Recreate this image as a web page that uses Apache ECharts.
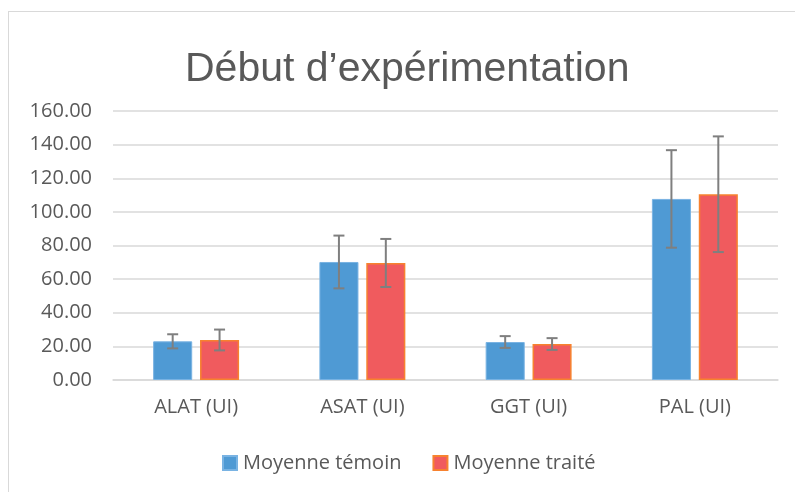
<!DOCTYPE html>
<html>
<head>
<meta charset="utf-8">
<script src="https://cdn.jsdelivr.net/npm/echarts@6/dist/echarts.min.js"></script>
<style>
  html, body { margin: 0; padding: 0; background: #fff; }
  #frame { position: absolute; left: 8px; top: 11px; width: 800px; height: 500px; border: 1.5px solid #d9d9d9; box-sizing: border-box; }
  #chart { position: absolute; left: 0; top: 0; width: 795px; height: 492px; }
</style>
</head>
<body>
<div id="frame"></div>
<div id="chart"></div>
<script>
// Liver enzyme means and standard deviations at the start of the experiment
const categories = ['ALAT (UI)', 'ASAT (UI)', 'GGT (UI)', 'PAL (UI)'];
const temoinMean = [23.0, 70.2, 22.6, 107.7];
const temoinSd = [4.2, 15.7, 3.5, 29.0];
const traiteMean = [23.8, 69.6, 21.4, 110.5];
const traiteSd = [6.2, 14.3, 3.5, 34.4];
const yTicks = [0, 20, 40, 60, 80, 100, 120, 140, 160];

const seriesNames = ['Moyenne témoin', 'Moyenne traité'];
const textColor = '#595959';
const font = '"Open Sans", "Liberation Sans", sans-serif';
const labelSize = 20;

const chart = echarts.init(document.getElementById('chart'), null, { renderer: 'canvas' });

// Error bar drawn as a vertical whisker with caps, offset to sit over its bar
function errorBars(means, sds, offsetIndex) {
  const data = means.map((m, i) => [i, m - sds[i], m + sds[i]]);
  return {
    type: 'custom',
    name: seriesNames[offsetIndex] + ' (erreur)',
    z: 10,
    silent: true,
    data: data,
    encode: { x: 0, y: [1, 2] },
    renderItem: function (params, api) {
      const idx = api.value(0);
      const lo = api.coord([idx, api.value(1)]);
      const hi = api.coord([idx, api.value(2)]);
      const band = api.size([1, 0])[0];
      const barW = band * 0.235;
      const gap = barW * 0.2;
      const shift = (offsetIndex === 0 ? -1 : 1) * (barW + gap) / 2;
      const x = lo[0] + shift;
      const cap = 5.5;
      const style = { stroke: '#7f7f7f', lineWidth: 2 };
      return {
        type: 'group',
        children: [
          { type: 'line', shape: { x1: x, y1: hi[1], x2: x, y2: lo[1] }, style: style },
          { type: 'line', shape: { x1: x - cap, y1: hi[1], x2: x + cap, y2: hi[1] }, style: style },
          { type: 'line', shape: { x1: x - cap, y1: lo[1], x2: x + cap, y2: lo[1] }, style: style }
        ]
      };
    }
  };
}

chart.setOption({
  animation: false,
  title: {
    text: 'Début d’expérimentation',
    left: 180,
    top: 44,
    textStyle: { fontFamily: '"Liberation Sans", Arial, sans-serif', fontSize: 41, fontWeight: 'normal', color: textColor }
  },
  legend: {
    data: seriesNames,
    top: 448,
    left: 217,
    itemWidth: 14,
    itemHeight: 14,
    itemGap: 31,
    icon: 'rect',
    textStyle: { fontFamily: font, fontSize: labelSize, color: textColor, padding: [0, 0, 0, 1] }
  },
  grid: { left: 113, right: 17, top: 111, bottom: 112 },
  xAxis: {
    type: 'category',
    data: categories,
    axisLine: { lineStyle: { color: '#d9d9d9', width: 1.5 } },
    axisTick: { show: false },
    axisLabel: { fontFamily: font, fontSize: labelSize, color: textColor, margin: 17 }
  },
  yAxis: {
    type: 'value',
    min: yTicks[0],
    max: yTicks[yTicks.length - 1],
    interval: 20,
    axisLine: { show: false },
    axisTick: { show: false },
    splitLine: { lineStyle: { color: '#d9d9d9', width: 1.5 } },
    axisLabel: {
      fontFamily: font, fontSize: labelSize, color: textColor, margin: 21,
      formatter: v => v.toFixed(2)
    }
  },
  series: [
    {
      name: seriesNames[0],
      type: 'bar',
      data: temoinMean,
      barWidth: '23.5%',
      barGap: '20%',
      itemStyle: { color: '#4f9ad4', borderColor: '#79b3e3', borderWidth: 1 }
    },
    {
      name: seriesNames[1],
      type: 'bar',
      data: traiteMean,
      barWidth: '23.5%',
      itemStyle: { color: '#f05b5e', borderColor: '#f7822f', borderWidth: 1.5 }
    },
    errorBars(temoinMean, temoinSd, 0),
    errorBars(traiteMean, traiteSd, 1)
  ]
});
</script>
</body>
</html>
